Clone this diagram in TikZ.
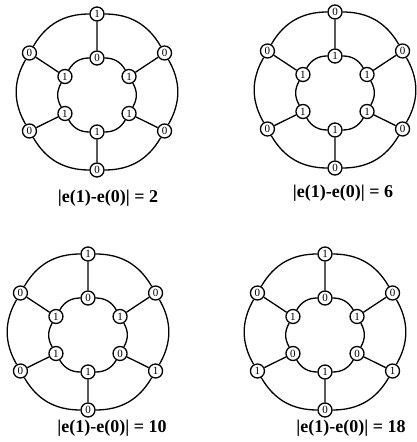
\documentclass[tikz,border=0pt]{standalone}
\usepackage{fontspec}
\setmainfont{Liberation Serif}
\begin{document}
\begin{tikzpicture}[x=1pt, y=1pt, line width=1.3pt,
  bit/.style={circle, draw, fill=white, inner sep=0pt, minimum size=14pt,
    font=\fontsize{11}{11}\selectfont},
  ring/.style={bend right=30},
  caption/.style={font=\fontsize{18}{18}\selectfont\bfseries}]
  \useasboundingbox (0,0) rectangle (417,442);

  % Graph A: |e(1)-e(0)| = 2
  \begin{scope}[shift={(97,350)}]
    \foreach \k/\ang/\v in {1/90/1, 2/150/0, 3/210/0, 4/270/0, 5/330/0, 6/30/0}
      \node[bit] (aO\k) at (\ang:78) {\v};
    \begin{scope}[yshift=-3]
      \foreach \k/\ang/\v in {1/90/0, 2/150/1, 3/210/1, 4/270/1, 5/330/1, 6/30/1}
        \node[bit] (aI\k) at (\ang:37) {\v};
    \end{scope}
    \foreach \k [remember=\k as \j (initially 6)] in {1,...,6}
      \draw (aO\j) to[ring] (aO\k) (aI\j) to[ring] (aI\k) (aO\k) -- (aI\k);
    \node[caption] (aCap) at (11,-106) {|e(1)-e(0)| = 2};
  \end{scope}

  % Graph B: |e(1)-e(0)| = 6
  \begin{scope}[shift={(335,352)}]
    \foreach \k/\ang/\v in {1/90/0, 2/150/0, 3/210/0, 4/270/0, 5/330/0, 6/30/0}
      \node[bit] (bO\k) at (\ang:78) {\v};
    \begin{scope}[yshift=-3]
      \foreach \k/\ang/\v in {1/90/1, 2/150/1, 3/210/1, 4/270/1, 5/330/1, 6/30/1}
        \node[bit] (bI\k) at (\ang:37) {\v};
    \end{scope}
    \foreach \k [remember=\k as \j (initially 6)] in {1,...,6}
      \draw (bO\j) to[ring] (bO\k) (bI\j) to[ring] (bI\k) (bO\k) -- (bI\k);
    \node[caption] (bCap) at (8,-103) {|e(1)-e(0)| = 6};
  \end{scope}

  % Graph C: |e(1)-e(0)| = 10
  \begin{scope}[shift={(88,110)}]
    \foreach \k/\ang/\v in {1/90/1, 2/150/0, 3/210/0, 4/270/0, 5/330/1, 6/30/0}
      \node[bit] (cO\k) at (\ang:78) {\v};
    \begin{scope}[yshift=-3]
      \foreach \k/\ang/\v in {1/90/0, 2/150/1, 3/210/1, 4/270/1, 5/330/0, 6/30/1}
        \node[bit] (cI\k) at (\ang:37) {\v};
    \end{scope}
    \foreach \k [remember=\k as \j (initially 6)] in {1,...,6}
      \draw (cO\j) to[ring] (cO\k) (cI\j) to[ring] (cI\k) (cO\k) -- (cI\k);
    \node[caption] (cCap) at (24,-96) {|e(1)-e(0)| = 10};
  \end{scope}

  % Graph D: |e(1)-e(0)| = 18
  \begin{scope}[shift={(325,110)}]
    \foreach \k/\ang/\v in {1/90/1, 2/150/0, 3/210/1, 4/270/0, 5/330/1, 6/30/0}
      \node[bit] (dO\k) at (\ang:78) {\v};
    \begin{scope}[yshift=-3]
      \foreach \k/\ang/\v in {1/90/0, 2/150/1, 3/210/0, 4/270/1, 5/330/0, 6/30/1}
        \node[bit] (dI\k) at (\ang:37) {\v};
    \end{scope}
    \foreach \k [remember=\k as \j (initially 6)] in {1,...,6}
      \draw (dO\j) to[ring] (dO\k) (dI\j) to[ring] (dI\k) (dO\k) -- (dI\k);
    \node[caption] (dCap) at (26,-96) {|e(1)-e(0)| = 18};
  \end{scope}
\end{tikzpicture}
\end{document}
